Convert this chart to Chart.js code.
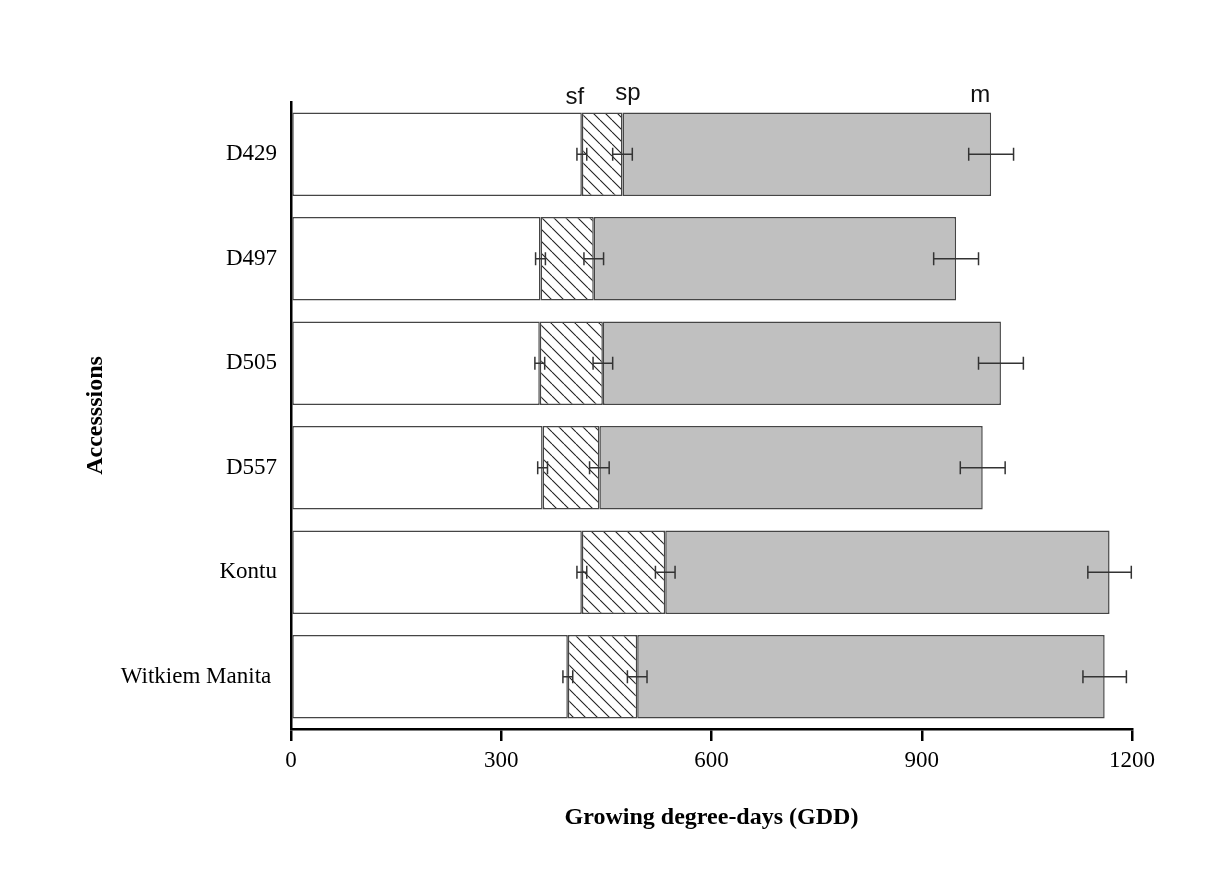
<!DOCTYPE html>
<html><head><meta charset="utf-8">
<script src="https://cdn.jsdelivr.net/npm/chart.js@4"></script>
<style>html,body{margin:0;padding:0;background:#fff}#wrap{width:1206px;height:888px}</style>
</head><body><div id="wrap"><canvas id="c" width="1206" height="888"></canvas></div>
<script>
// ---- data ----
const accessions = ['D429', 'D497', 'D505', 'D557', 'Kontu', 'Witkiem Manita '];
const sf = [415, 356, 355, 359, 415, 395];     // GDD to sf
const sp = [473, 432, 445, 440, 534, 494];     // GDD to sp
const m = [999, 949, 1013, 987, 1168, 1161];   // GDD to m
const sfErr = [7, 7, 7, 7, 7, 7];
const spErr = [14, 14, 14, 14, 14, 14];
const mErr = [32, 32, 32, 32, 31, 31];
const xTicks = [0, 300, 600, 900, 1200];
const phaseLabels = ['sf', 'sp', 'm'];

// derived stacked segments
const seg1 = sf.slice();
const seg2 = sp.map((v, i) => v - sf[i]);
const seg3 = m.map((v, i) => v - sp[i]);

// hatch pattern
function makeHatch() {
  const s = 12;
  const c = document.createElement('canvas');
  c.width = s; c.height = s;
  const g = c.getContext('2d');
  g.fillStyle = '#ffffff';
  g.fillRect(0, 0, s, s);
  g.strokeStyle = '#222';
  g.lineWidth = 1.1;
  g.beginPath();
  for (const k of [-s, 0, s]) {
    g.moveTo(k, 0);
    g.lineTo(k + s, s);
  }
  g.stroke();
  return g.createPattern(c, 'repeat');
}
const hatch = makeHatch();

const errorBars = {
  id: 'errorBars',
  afterDatasetsDraw(chart) {
    const {ctx, scales: {x, y}} = chart;
    ctx.save();
    ctx.strokeStyle = '#333';
    ctx.lineWidth = 1.5;
    const cap = 6.5;
    accessions.forEach((_, i) => {
      const yc = y.getPixelForValue(i);
      [[sf[i], sfErr[i]], [sp[i], spErr[i]], [m[i], mErr[i]]].forEach(([v, e]) => {
        const x1 = x.getPixelForValue(v - e), x2 = x.getPixelForValue(v + e);
        ctx.beginPath();
        ctx.moveTo(x1, yc); ctx.lineTo(x2, yc);
        ctx.moveTo(x1, yc - cap); ctx.lineTo(x1, yc + cap);
        ctx.moveTo(x2, yc - cap); ctx.lineTo(x2, yc + cap);
        ctx.stroke();
      });
    });
    ctx.restore();
  }
};

const phaseText = {
  id: 'phaseText',
  afterDraw(chart) {
    const {ctx, scales: {x}, chartArea} = chart;
    const refs = [sf[0], sp[0], m[0]];
    const dx = [-7, 5.5, -11];
    const dy = [2, -2, 0];
    ctx.save();
    ctx.font = '24px "Liberation Sans", Arial, sans-serif';
    ctx.fillStyle = '#111';
    ctx.textAlign = 'center';
    ctx.textBaseline = 'alphabetic';
    phaseLabels.forEach((t, k) => {
      ctx.fillText(t, x.getPixelForValue(refs[k]) + dx[k], chartArea.top + dy[k]);
    });
    ctx.restore();
  }
};

const serif = '"Liberation Serif", "Times New Roman", serif';
const borderCol = '#454545';

new Chart(document.getElementById('c'), {
  type: 'bar',
  data: {
    labels: accessions,
    datasets: [
      {label: 'sf', data: seg1, backgroundColor: '#ffffff', borderColor: borderCol, borderWidth: 1.5, borderSkipped: false},
      {label: 'sp', data: seg2, backgroundColor: hatch, borderColor: borderCol, borderWidth: 1.5, borderSkipped: false},
      {label: 'm', data: seg3, backgroundColor: '#c0c0c0', borderColor: borderCol, borderWidth: 1.5, borderSkipped: false}
    ]
  },
  options: {
    indexAxis: 'y',
    responsive: false,
    devicePixelRatio: 1,
    animation: false,
    barPercentage: 0.8,
    categoryPercentage: 1.0,
    layout: {padding: {top: 102, right: 74, bottom: 0, left: 0}},
    plugins: {legend: {display: false}, tooltip: {enabled: false}},
    scales: {
      x: {
        type: 'linear', stacked: true, min: 0, max: 1200,
        afterBuildTicks(scale) { scale.ticks = xTicks.map(v => ({value: v})); },
        afterFit(scale) { scale.height = 888 - 729; },
        grid: {display: true, drawOnChartArea: false, drawTicks: true, tickLength: 12, color: '#000', lineWidth: 2.5},
        border: {display: true, color: '#000', width: 2.5},
        ticks: {color: '#000', font: {family: serif, size: 23}, padding: 6, maxRotation: 0,
          callback: (v) => String(v)},
        title: {display: true, text: 'Growing degree-days (GDD)', color: '#000',
          font: {family: serif, size: 24, weight: 'bold'}, padding: {top: 0, bottom: 56}}
      },
      y: {
        type: 'category', stacked: true,
        afterFit(scale) { scale.width = 291; },
        grid: {display: false, drawTicks: false},
        border: {display: true, color: '#000', width: 2.5},
        ticks: {color: '#000', font: {family: serif, size: 23}, padding: 14},
        title: {display: true, text: 'Accesssions', color: '#000',
          font: {family: serif, size: 24, weight: 'bold'}, padding: {top: 81, bottom: 0}}
      }
    }
  },
  plugins: [errorBars, phaseText]
});
</script>
</body></html>
